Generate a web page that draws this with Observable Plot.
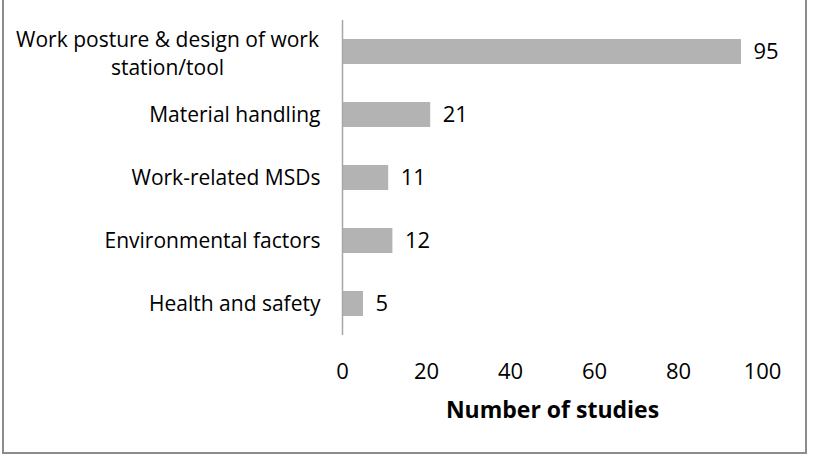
<!DOCTYPE html>
<html>
<head>
<meta charset="utf-8">
<script src="https://cdn.jsdelivr.net/npm/d3@7"></script>
<script src="https://cdn.jsdelivr.net/npm/@observablehq/plot@0.6"></script>
<style>
  html, body { margin: 0; padding: 0; background: #fff; }
  #wrap { position: relative; width: 813px; height: 462px; }
  #frame { position: absolute; left: 2px; top: -2px; width: 801px; height: 452px; border: 2px solid #8c8c8c; box-sizing: content-box; pointer-events: none; }
  svg { font-family: "Open Sans", sans-serif; }
</style>
</head>
<body>
<div id="wrap"><div id="frame"></div></div>
<script>
const categories = [
  "Work posture & design of work\nstation/tool",
  "Material handling",
  "Work-related MSDs",
  "Environmental factors",
  "Health and safety"
];
const values = [95, 21, 11, 12, 5];
const xTicks = [0, 20, 40, 60, 80, 100];
const xTitle = "Number of studies";

const data = categories.map((c, i) => ({category: c, value: values[i]}));
const wrapped = categories.filter(c => c.includes("\n"));

const chart = Plot.plot({
  width: 813,
  height: 462,
  marginLeft: 342,
  marginRight: 51,
  marginTop: 20,
  marginBottom: 127,
  style: {fontFamily: "'Open Sans', sans-serif", background: "transparent", overflow: "visible"},
  x: {domain: [0, 100], ticks: xTicks},
  y: {domain: categories, paddingInner: 0.6, paddingOuter: 0.3},
  marks: [
    Plot.barX(data, {y: "category", x: "value", fill: "#b3b3b3"}),
    Plot.text(data, {y: "category", x: "value", text: d => String(d.value), textAnchor: "start", dx: 12, fontSize: 22, fill: "#000"}),
    Plot.ruleX([0], {stroke: "#a6a6a6", strokeWidth: 1.5}),
    Plot.ruleY([0], {stroke: "#a6a6a6", strokeWidth: 1.5}),
    Plot.axisX({ticks: xTicks, tickSize: 0, tickPadding: 28, fontSize: 22, label: null, color: "#000"}),
    Plot.axisY({tickSize: 0, tickPadding: 22, fontSize: 21, label: null, color: "#000",
      tickFormat: d => d.includes("\n") ? "" : d}),
    // wrapped category label, lines centred on each other as in the original
    Plot.text(wrapped, {y: d => d, text: d => d, frameAnchor: "left", textAnchor: "middle", dx: -175, fontSize: 21, lineHeight: 1.33, fill: "#000"}),
    Plot.text([xTitle], {frameAnchor: "bottom", dy: 82, fontSize: 23, fontWeight: "bold", fill: "#000"})
  ]
});
document.getElementById("wrap").prepend(chart);
</script>
</body>
</html>
